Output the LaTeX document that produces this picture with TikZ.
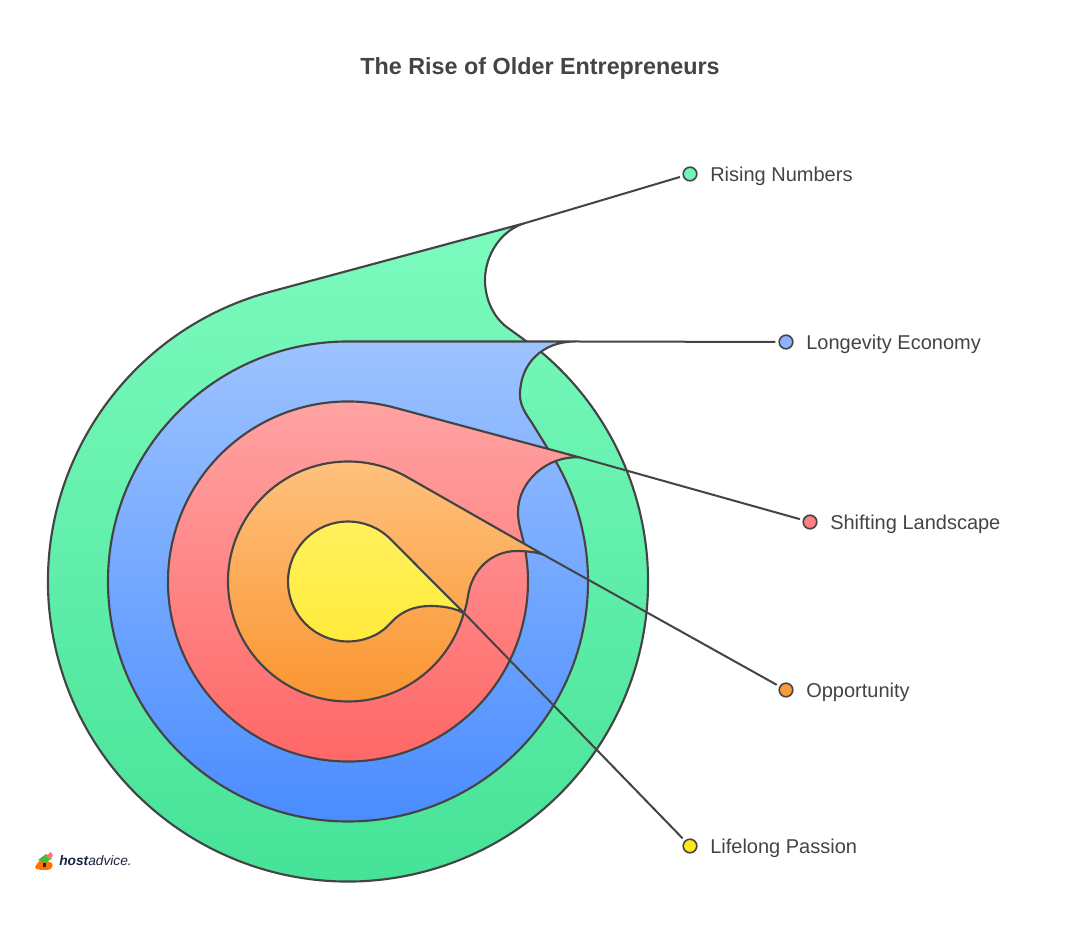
\documentclass[tikz,border=0pt]{standalone}
\usepackage{fontspec}
\usetikzlibrary{calc}
\setmainfont{Liberation Sans}
\definecolor{ink}{HTML}{444444}
\definecolor{gT}{HTML}{7DFBBF}\definecolor{gB}{HTML}{43E195}
\definecolor{bT}{HTML}{9DC3FF}\definecolor{bB}{HTML}{4A8CFF}
\definecolor{rT}{HTML}{FFA6A6}\definecolor{rB}{HTML}{FF6464}
\definecolor{oT}{HTML}{FFC482}\definecolor{oB}{HTML}{FA9430}
\definecolor{yT}{HTML}{FFF160}\definecolor{yB}{HTML}{FFEA38}
\definecolor{navy}{HTML}{1B2240}
\definecolor{dotG}{HTML}{6FF5B8}\definecolor{dotB}{HTML}{8BB3FF}
\definecolor{dotR}{HTML}{FF8080}\definecolor{dotO}{HTML}{F99A3C}
\definecolor{dotY}{HTML}{FFE81A}
\tikzset{
  x=0.75pt,y=0.75pt,
  ring/.style 2 args={draw=ink,line width=1.6pt,line join=round,top color=#1,bottom color=#2,shading angle=0},
  leader/.style={draw=ink,line width=1.5pt,shorten >=2.2pt},
  dot/.style={circle,draw=ink,line width=1.2pt,minimum size=10.2pt,inner sep=0pt,fill=#1},
  lbl/.style={anchor=west,font=\fontsize{15}{18}\selectfont,text=ink,inner sep=0pt},
  ttl/.style={font=\fontsize{17.5}{22}\selectfont\bfseries,text=ink,inner sep=0pt},
}
\begin{document}
\begin{tikzpicture}
\useasboundingbox (0,0) rectangle (1080,941);
\fill[white] (0,0) rectangle (1080,941);
\coordinate (C) at (348,359.5);
\coordinate (tipG) at (524,717.6);
\coordinate (tipB) at (575,599.5);
\coordinate (tipR) at (580,483.5);
\coordinate (tipO) at (543,386.5);
\coordinate (tipY) at (464.5,327.5);

\node[ttl] (title) at (540,872.5) {The Rise of Older Entrepreneurs};

% rings
\path[ring={gT}{gB}] ($(C)+(105.3:300)$) arc[start angle=105.3,end angle=409.9,radius=300]
  -- (508,613) .. controls (495,622) and (485,640) .. (485,661)
  .. controls (485,685) and (500,710) .. (tipG) -- cycle;
\path[ring={bT}{bB}] ($(C)+(90:240)$) arc[start angle=90,end angle=393.9,radius=240]
  -- (532,518) .. controls (526,527) and (520,535) .. (520,546)
  .. controls (520,578) and (543,599.5) .. (tipB) -- cycle;
\path[ring={rT}{rB}] ($(C)+(74.8:180)$) arc[start angle=74.8,end angle=372.4,radius=180]
  .. controls (521,410) and (518,418) .. (518,429)
  .. controls (518,460) and (548,486) .. (tipR) -- cycle;
\path[ring={oT}{oB}] ($(C)+(60.3:120)$) arc[start angle=60.3,end angle=344.4,radius=120]
  .. controls (466,333) and (467,339) .. (468,345)
  .. controls (472,372) and (492,390) .. (517,390)
  .. controls (526,390) and (535,389) .. (tipO) -- cycle;
\path[ring={yT}{yB}] ($(C)+(45:60)$) arc[start angle=45,end angle=295,radius=60]
  .. controls (381,308.5) and (386,313) .. (392,319.5)
  .. controls (402,330) and (415,335) .. (430,335)
  .. controls (443,335) and (455,333) .. (tipY) -- cycle;

% markers and labels
\node[dot=dotG] (dG) at (690,767) {};
\node[dot=dotB] (dB) at (786,599) {};
\node[dot=dotR] (dR) at (810,419) {};
\node[dot=dotO] (dO) at (786,251) {};
\node[dot=dotY] (dY) at (690,95) {};
\draw[leader] (tipG) -- (dG);
\draw[leader] (tipB) -- (dB);
\draw[leader] (tipR) -- (dR);
\draw[leader] (tipO) -- (dO);
\draw[leader] (tipY) -- (dY);
\node[lbl] (lG) at (710,765) {Rising Numbers};
\node[lbl] (lB) at (806,597) {Longevity Economy};
\node[lbl] (lR) at (830,417) {Shifting Landscape};
\node[lbl] (lO) at (806,249) {Opportunity};
\node[lbl] (lY) at (710,93) {Lifelong Passion};

% logo
\fill[orange!90!red,rounded corners=2pt] (34,73) -- (41,82) -- (46,80) -- (53,78) -- (52,72) -- (47,71) -- (40,71) -- cycle;
\fill[green!65!black!75] (38,81) -- (46,87) -- (52,83) -- (46,78) -- cycle;
\fill[red!55!white] (46,85) -- (51,89) -- (53,85) -- (49,82) -- cycle;
\fill[navy] (43,74) rectangle (46,78);
\node[anchor=west,inner sep=0pt,text=navy,font=\fontsize{10.3}{13}\selectfont\itshape] (logo) at (59,80.5) {\textbf{host}advice.};
\end{tikzpicture}
\end{document}
